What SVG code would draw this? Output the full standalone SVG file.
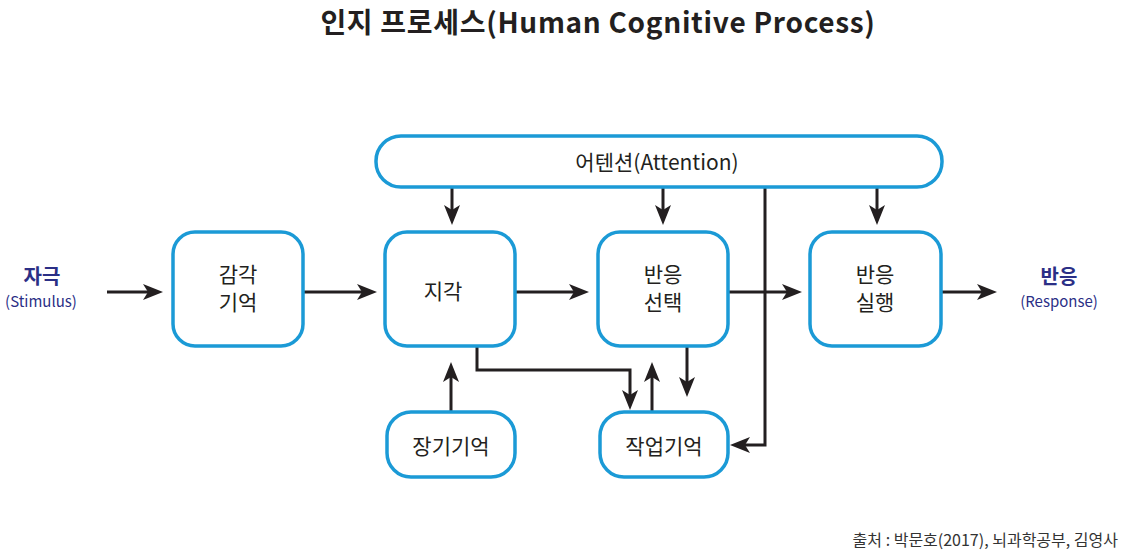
<svg xmlns="http://www.w3.org/2000/svg" width="1124" height="553" viewBox="0 0 1124 553">
<style>
.box{fill:#fff;stroke:#1b9ad6;stroke-width:3.5}
.lbl{font-family:"Noto Sans CJK KR","Noto Sans",sans-serif;font-size:21px;fill:#231f20;text-anchor:middle}
.io{font-family:"Noto Sans CJK KR","Noto Sans",sans-serif;fill:#2b2f86;text-anchor:middle}
.con{fill:none;stroke:#231f20;stroke-width:3;stroke-linejoin:miter}
</style>
<defs>
<marker id="ah" viewBox="0 0 20 16" refX="12" refY="8" markerWidth="20" markerHeight="16" markerUnits="userSpaceOnUse" orient="auto">
<path d="M0,0 L20,8 L0,16 L5,8 z" fill="#231f20"/>
</marker>
</defs>
<rect width="1124" height="553" fill="#fff"/>
<text x="598" y="33" font-family="'Noto Sans CJK KR','Noto Sans',sans-serif" font-size="28" font-weight="bold" letter-spacing="0.7" fill="#231f20" text-anchor="middle">인지 프로세스(Human Cognitive Process)</text>

<g id="connectors">
<path class="con" marker-end="url(#ah)" d="M107,292 H155"/>
<path class="con" marker-end="url(#ah)" d="M303,292 H369"/>
<path class="con" marker-end="url(#ah)" d="M515,292 H581"/>
<path class="con" marker-end="url(#ah)" d="M728,292 H794"/>
<path class="con" marker-end="url(#ah)" d="M942,292 H989"/>
<path class="con" marker-end="url(#ah)" d="M452,188 V217"/>
<path class="con" marker-end="url(#ah)" d="M663,188 V217"/>
<path class="con" marker-end="url(#ah)" d="M877,188 V217"/>
<path class="con" marker-end="url(#ah)" d="M765,188 V445 H738"/>
<path class="con" marker-end="url(#ah)" d="M477,346 V370 H630 V402"/>
<path class="con" marker-end="url(#ah)" d="M652,412 V370"/>
<path class="con" marker-end="url(#ah)" d="M687,346 V389"/>
<path class="con" marker-end="url(#ah)" d="M451,412 V370"/>
</g>

<g id="attention">
<rect class="box" x="376" y="136" width="566" height="51" rx="25"/>
<text class="lbl" x="657" y="170">어텐션(Attention)</text>
</g>
<g id="stimulus">
<text class="io" x="42" y="284" font-size="20" font-weight="bold">자극</text>
<text class="io" x="41" y="307" font-size="15">(Stimulus)</text>
</g>
<g id="sensory">
<rect class="box" x="173" y="232" width="130" height="114" rx="22"/>
<text class="lbl" x="238" y="282">감각</text>
<text class="lbl" x="238" y="310">기억</text>
</g>
<g id="perception">
<rect class="box" x="385" y="232" width="130" height="114" rx="22"/>
<text class="lbl" x="443" y="299">지각</text>
</g>
<g id="selection">
<rect class="box" x="598" y="232" width="130" height="114" rx="22"/>
<text class="lbl" x="663" y="282">반응</text>
<text class="lbl" x="663" y="310">선택</text>
</g>
<g id="execution">
<rect class="box" x="810" y="232" width="131" height="114" rx="22"/>
<text class="lbl" x="875" y="282">반응</text>
<text class="lbl" x="875" y="310">실행</text>
</g>
<g id="response">
<text class="io" x="1059" y="284" font-size="20" font-weight="bold">반응</text>
<text class="io" x="1059" y="307" font-size="15">(Response)</text>
</g>
<g id="longterm">
<rect class="box" x="387" y="412" width="128" height="65" rx="24"/>
<text class="lbl" x="451" y="454">장기기억</text>
</g>
<g id="working">
<rect class="box" x="600" y="412" width="128" height="65" rx="24"/>
<text class="lbl" x="664" y="454">작업기억</text>
</g>
<text x="1118" y="546" font-family="'Noto Sans CJK KR','Noto Sans',sans-serif" font-size="16" fill="#333" text-anchor="end">출처 : 박문호(2017), 뇌과학공부, 김영사</text>
</svg>
